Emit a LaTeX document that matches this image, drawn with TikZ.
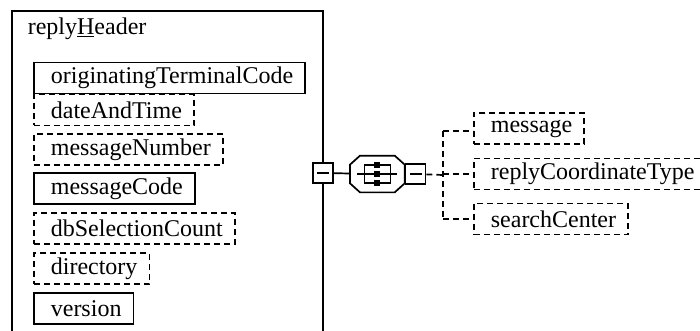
\documentclass[tikz,border=0pt]{standalone}
\usepackage{fontspec}
\setmainfont{Liberation Serif}
\usetikzlibrary{positioning,calc}

\begin{document}
\begin{tikzpicture}[x=1pt,y=-1pt,line width=1.7pt,
  dashline/.style={dash pattern=on 6pt off 4pt},
  elem/.style={draw,anchor=west,minimum height=31pt,inner ysep=0pt,inner xsep=12pt,
    font=\fontsize{24}{28}\selectfont,execute at begin node=\hspace{5pt}},
  optelem/.style={elem,dashline},
  minusbox/.style={draw,fill=white,minimum size=20pt,inner sep=0pt}]
  \useasboundingbox (0,0) rectangle (700,331);
  % the type box
  \draw (12,340) -- (12,11) -- (323,11) -- (323,340);
  \path (27,35) node[anchor=base west,inner sep=0pt,font=\fontsize{24}{28}\selectfont] (title) {reply\underline{H}eader};
  % elements of the type
  \path (33,78) node[elem] (otc) {originatingTerminalCode};
  \path (33,110) node[optelem] (dat) {dateAndTime};
  \path (33,149.5) node[optelem] (mnum) {messageNumber};
  \path (33,188.5) node[elem] (mcode) {messageCode};
  \path (33,228.5) node[optelem] (dbsc) {dbSelectionCount};
  \path (33,268.5) node[optelem] (dir) {directory};
  \path (33,308.5) node[elem] (ver) {version};
  % sequence group
  \path (323,173) node[minusbox] (lminus) {};
  \path (350,174) node[anchor=west,minimum width=53pt,minimum height=35pt,inner sep=0pt] (seq) {};
  \path (seq.east) node[minusbox,anchor=west] (rminus) {};
  \draw ([xshift=-6pt]lminus.center) -- ([xshift=6pt]lminus.center);
  \draw ([xshift=-6pt]rminus.center) -- ([xshift=6pt]rminus.center);
  \draw ([xshift=10pt]seq.north west) -- ([xshift=-10pt]seq.north east) -- ([yshift=-9pt]seq.north east)
    -- ([yshift=9pt]seq.south east) -- ([xshift=-10pt]seq.south east) -- ([xshift=10pt]seq.south west)
    -- ([yshift=9pt]seq.south west) -- ([yshift=-9pt]seq.north west) -- cycle;
  % sequence sign
  \draw ([xshift=-20pt]seq.center) -- ([xshift=20pt]seq.center);
  \draw ([xshift=-2pt,yshift=-9pt]seq.center) -| ([xshift=-13pt]seq.center) |- ([xshift=-2pt,yshift=9pt]seq.center);
  \draw ([xshift=2pt,yshift=-9pt]seq.center) -| ([xshift=13pt]seq.center) |- ([xshift=2pt,yshift=9pt]seq.center);
  \foreach \dy in {-9,0,9}
    \fill ([xshift=-3pt,yshift=\dy pt-3pt]seq.center) rectangle ([xshift=3pt,yshift=\dy pt+3pt]seq.center);
  % elements of the sequence
  \path (473,128.5) node[optelem] (msg) {message};
  \path (473,174) node[optelem] (rct) {replyCoordinateType};
  \path (473,219) node[optelem] (sc) {searchCenter};
  \coordinate (fork) at (443,175);
  \draw (lminus) -- (seq);
  \draw[dashline] (rminus) -- (fork);
  \draw[dashline] (fork |- 0,131) -- (fork |- sc.west);
  \draw[dashline] (fork |- 0,131) -- (msg.west |- 0,131);
  \draw[dashline] (fork |- rct.west) -- (rct);
  \draw[dashline] (fork |- sc.west) -- (sc);
\end{tikzpicture}
\end{document}
